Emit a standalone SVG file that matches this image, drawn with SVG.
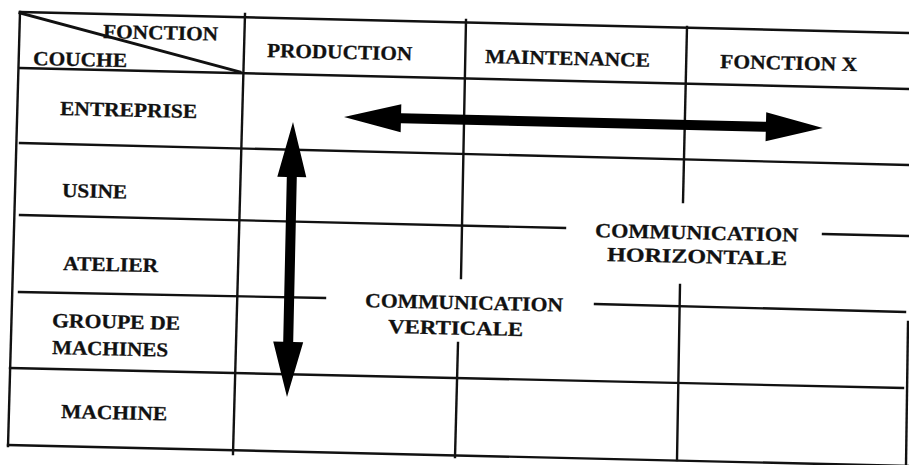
<svg xmlns="http://www.w3.org/2000/svg" width="909" height="465" viewBox="0 0 909 465">
  <style>
    .rule { stroke: #111; stroke-width: 2.4; stroke-linecap: square; fill: none; }
    .diag { stroke-width: 3; }
    .lbl { font-family: "Liberation Serif", "Times New Roman", serif; font-weight: bold; font-size: 20px; fill: #111; stroke: #111; stroke-width: 0.3; }
    .arrow { fill: #000; }
  </style>
  <defs>
    <!-- double-headed arrow, unit direction along +x; length set per use -->
    <polygon id="dbl-h" points="0,0 57,-14 57,-5 422,-5 422,-14.5 479,0 422,14.5 422,5 57,5 57,14"/>
    <polygon id="dbl-v" points="0,0 55,-14.5 55,-5 220,-5 220,-15 275,0 220,15 220,5 55,5 55,14.5"/>
  </defs>
  <rect width="909" height="465" fill="#fff"/>

  <!-- table grid (slightly tilted, as printed) -->
  <g id="grid">
    <line class="rule" x1="20" y1="12" x2="910" y2="33"/>
    <line class="rule" x1="20" y1="68" x2="910" y2="89"/>
    <line class="rule" x1="20" y1="143" x2="910" y2="165"/>
    <line class="rule" x1="20" y1="215" x2="565" y2="228"/>
    <line class="rule" x1="823" y1="234" x2="910" y2="236"/>
    <line class="rule" x1="19" y1="292" x2="325" y2="298"/>
    <line class="rule" x1="595" y1="304" x2="905" y2="312"/>
    <line class="rule" x1="10" y1="368" x2="903" y2="388"/>
    <line class="rule" x1="8" y1="445" x2="909" y2="466"/>
    <line class="rule" x1="20" y1="12" x2="8" y2="446"/>
    <line class="rule" x1="245" y1="14" x2="233" y2="454"/>
    <line class="rule" x1="466" y1="20" x2="461" y2="278"/>
    <line class="rule" x1="458" y1="343" x2="455" y2="457"/>
    <line class="rule" x1="687" y1="27" x2="683" y2="202"/>
    <line class="rule" x1="680" y1="285" x2="677" y2="460"/>
    <line class="rule" x1="908" y1="322" x2="906" y2="466"/>
    <line class="rule diag" x1="20" y1="13" x2="240" y2="72"/>
  </g>

  <!-- header corner -->
  <g id="corner">
    <text class="lbl" x="103" y="38" textLength="115" lengthAdjust="spacingAndGlyphs" transform="rotate(1.3 103 38)">FONCTION</text>
    <text class="lbl" x="33" y="65" textLength="94" lengthAdjust="spacingAndGlyphs" transform="rotate(1.3 33 65)">COUCHE</text>
  </g>

  <!-- function columns -->
  <g id="col-production">
    <text class="lbl" x="267" y="57" textLength="145" lengthAdjust="spacingAndGlyphs" transform="rotate(1.3 267 57)">PRODUCTION</text>
  </g>
  <g id="col-maintenance">
    <text class="lbl" x="485" y="63" textLength="165" lengthAdjust="spacingAndGlyphs" transform="rotate(1.3 485 63)">MAINTENANCE</text>
  </g>
  <g id="col-fonction-x">
    <text class="lbl" x="720" y="68" textLength="137" lengthAdjust="spacingAndGlyphs" transform="rotate(1.3 720 68)">FONCTION X</text>
  </g>

  <!-- layer rows -->
  <g id="row-entreprise">
    <text class="lbl" x="60" y="115" textLength="137" lengthAdjust="spacingAndGlyphs" transform="rotate(1.3 60 115)">ENTREPRISE</text>
  </g>
  <g id="row-usine">
    <text class="lbl" x="62" y="197" textLength="65" lengthAdjust="spacingAndGlyphs" transform="rotate(1.3 62 197)">USINE</text>
  </g>
  <g id="row-atelier">
    <text class="lbl" x="63" y="270" textLength="95" lengthAdjust="spacingAndGlyphs" transform="rotate(1.3 63 270)">ATELIER</text>
  </g>
  <g id="row-groupe">
    <text class="lbl" x="52" y="327" textLength="128" lengthAdjust="spacingAndGlyphs" transform="rotate(1.3 52 327)">GROUPE DE</text>
    <text class="lbl" x="52" y="354" textLength="116" lengthAdjust="spacingAndGlyphs" transform="rotate(1.3 52 354)">MACHINES</text>
  </g>
  <g id="row-machine">
    <text class="lbl" x="61" y="418" textLength="106" lengthAdjust="spacingAndGlyphs" transform="rotate(1.3 61 418)">MACHINE</text>
  </g>

  <!-- communication labels -->
  <g id="label-horizontale">
    <text class="lbl" x="595" y="237" textLength="203" lengthAdjust="spacingAndGlyphs" transform="rotate(1.3 595 237)">COMMUNICATION</text>
    <text class="lbl" x="607" y="261" textLength="180" lengthAdjust="spacingAndGlyphs" transform="rotate(1.3 607 261)">HORIZONTALE</text>
  </g>
  <g id="label-verticale">
    <text class="lbl" x="365" y="307" textLength="198" lengthAdjust="spacingAndGlyphs" transform="rotate(1.3 365 307)">COMMUNICATION</text>
    <text class="lbl" x="388" y="333" textLength="135" lengthAdjust="spacingAndGlyphs" transform="rotate(1.3 388 333)">VERTICALE</text>
  </g>

  <!-- communication arrows -->
  <g id="connectors">
    <use href="#dbl-h" class="arrow" transform="translate(344 117) rotate(1.32)"/>
    <use href="#dbl-v" class="arrow" transform="translate(293 122) rotate(91.25)"/>
  </g>
</svg>
